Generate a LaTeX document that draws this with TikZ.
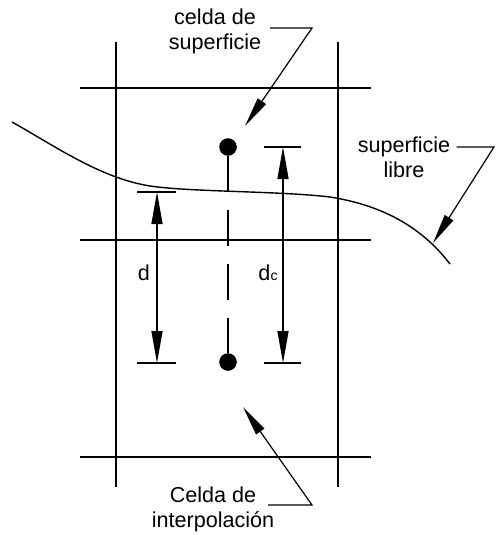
\documentclass[tikz,border=0pt]{standalone}
\usepackage{fontspec}
\setmainfont{Liberation Sans}
\usetikzlibrary{arrows.meta,positioning}
\tikzset{
  gridline/.style={line width=0.7pt,draw=black},
  freesurf/.style={line width=0.7pt,draw=black},
  axisline/.style={line width=0.7pt,draw=black},
  dimtick/.style={line width=0.7pt,draw=black},
  dimline/.style={{Triangle[length=16pt,width=5.5pt]}-{Triangle[length=16pt,width=5.5pt]},line width=0.7pt},
  leader/.style={-{Triangle[length=15pt,width=5pt]},line width=0.6pt},
  cellpt/.style={circle,fill=black,inner sep=0pt,minimum size=8.8pt},
  txt/.style={align=center,inner sep=0pt,font=\fontsize{10.8}{12.5}\selectfont}
}

\begin{document}
\begin{tikzpicture}[x=0.5pt,y=-0.5pt]
  \useasboundingbox (0,0) rectangle (495,535);
  % malla
  \draw[gridline] (116,42)--(116,487); \draw[gridline] (338,42)--(338,487);
  \draw[gridline] (80,88)--(371,88); \draw[gridline] (80,240)--(371,240); \draw[gridline] (80,457)--(371,457);
  % superficie libre
  \draw[freesurf] (12,122) .. controls (55,146) and (100,178) .. (150,186)
    .. controls (190,192) and (280,191) .. (330,197)
    .. controls (380,205) and (420,225) .. (450,264);
  % centros de celda
  \node[cellpt] (ptsup) at (228,147) {};
  \node[cellpt] (ptint) at (228,362) {};
  \coordinate (stemend) at (228,192);
  \draw[axisline] (ptsup.south)--(stemend);
  \draw[axisline,dash pattern=on 18pt off 9pt] (228,210)--(ptint.north);
  % cota d
  \draw[dimtick] (137,192)--(176,192); \draw[dimtick] (137,363)--(176,363);
  \coordinate (dtop) at (157,192); \coordinate (dbot) at (157,363);
  \draw[dimline] (dtop)--(dbot);
  \node[txt] (dlab) at (144,273) {d};
  % cota dc
  \draw[dimtick] (264,147)--(301,147); \draw[dimtick] (264,363)--(301,363);
  \coordinate (dctop) at (283,147); \coordinate (dcbot) at (283,363);
  \draw[dimline] (dctop)--(dcbot);
  \node[txt] (dclab) at (268,273) {d{\fontsize{7}{8}\selectfont c}};
  % rotulos
  \node[txt] (celsup) at (215,31) {celda de\\superficie};
  \coordinate (celsupa) at (270,28); \coordinate (celsupb) at (312,28); \coordinate (celsupc) at (245,126);
  \draw[leader] (celsupa)--(celsupb)--(celsupc);
  \node[txt] (suplib) at (404,157) {superficie\\libre};
  \coordinate (suplibb) at (494,147); \coordinate (suplibc) at (433,243);
  \draw[leader] (suplib.north east|-suplibb) ++(6,0)--(suplibb)--(suplibc);
  \node[txt] (celint) at (213,509) {Celda de\\interpolación};
  \coordinate (celinta) at (268,505); \coordinate (celintb) at (312,505); \coordinate (celintc) at (243,407);
  \draw[leader] (celinta)--(celintb)--(celintc);
\end{tikzpicture}
\end{document}
